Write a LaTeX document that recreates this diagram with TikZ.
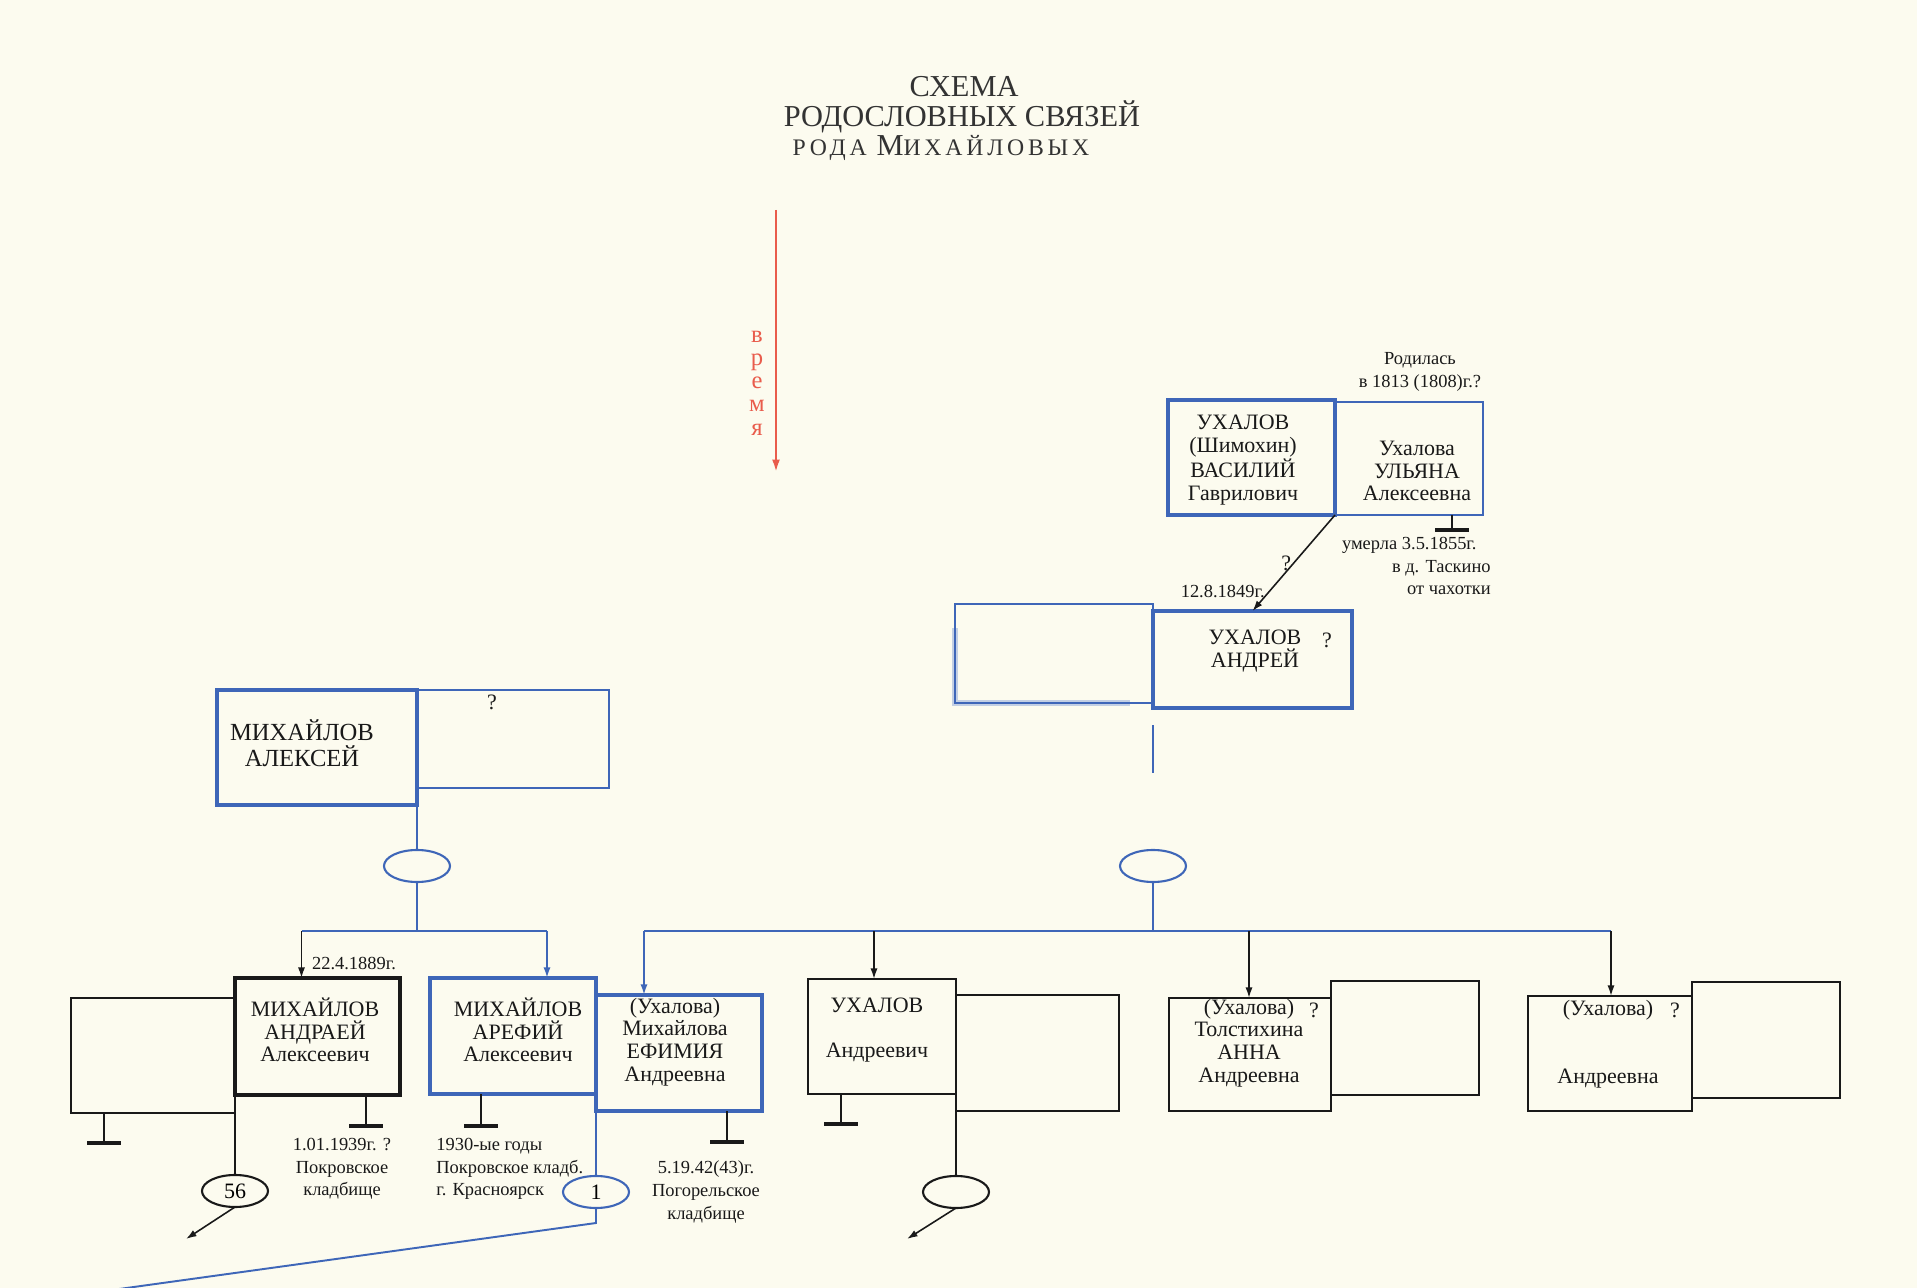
\documentclass[tikz,border=0pt]{standalone}
\usepackage{fontspec}
\setmainfont{Liberation Serif}
\newfontfamily\spacedfont[LetterSpace=16]{Liberation Serif}
\usetikzlibrary{positioning,arrows.meta,calc,shapes.geometric}

\definecolor{kinblue}{RGB}{62,102,184}
\definecolor{timered}{RGB}{233,92,76}
\definecolor{paper}{RGB}{252,251,239}

\tikzset{
  pbox/.style n args={2}{rectangle, draw, inner sep=0pt, outer sep=0pt,
    minimum width=#1*0.2mm, minimum height=#2*0.2mm},
}

\begin{document}
\begin{tikzpicture}[
  x=0.2mm, y=-0.2mm,
  thickblue/.style={draw=kinblue, line width=2.8pt},
  thinblue/.style={draw=kinblue, line width=1.1pt},
  thickblack/.style={draw=black!90, line width=2.8pt},
  thinblack/.style={draw=black!90, line width=1pt},
  names/.style={font=\fontsize{12.5}{12.9}\selectfont, align=center,
    inner sep=0pt, text=black!90},
  note/.style={font=\fontsize{10.5}{12.9}\selectfont, inner sep=0pt, text=black!90},
  titletext/.style={font=\fontsize{17.3}{20}\selectfont, inner sep=0pt, text=black!80},
  timetext/.style={font=\fontsize{14}{13.2}\selectfont, text=timered, align=center, inner sep=0pt},
  oval/.style={ellipse, draw=black!90, line width=1.2pt, inner sep=0pt, outer sep=0pt,
    minimum width=13.2mm, minimum height=6.4mm,
    font=\fontsize{12.5}{13}\selectfont},
  kinline/.style={draw=black!90, line width=0.9pt},
  bluelink/.style={draw=kinblue, line width=1.1pt},
  kinarrow/.style={kinline, -{Latex[length=6pt,width=4pt]}},
  bluearrow/.style={bluelink, -{Latex[length=6pt,width=4pt]}},
  gravebar/.style={draw=black!90, line width=2.3pt},
  timearrow/.style={draw=timered, line width=1.3pt, -{Latex[length=7pt,width=4.5pt]}},
  smudge/.style={draw=kinblue!50, line width=3pt, opacity=.6},
]
  \fill[paper] (0,0) rectangle (1917,1288);
  \useasboundingbox (0,0) rectangle (1917,1288);

  % Title
  \node[titletext] (title1) at (964,87) {СХЕМА};
  \node[titletext] (title2) at (962,117) {РОДОСЛОВНЫХ СВЯЗЕЙ};
  \node[inner sep=0pt, text=black!80] (title3) at (941,148)
    {\spacedfont\fontsize{13.5}{16}\selectfont РОДА {\fontsize{17.3}{16}\selectfont М}ИХАЙЛОВЫХ};

  % Time arrow
  \coordinate (ttop) at (776,210);
  \coordinate (tbot) at (776,472);
  \draw[timearrow] (ttop) -- (tbot);
  \node[timetext] (vremya) at (757,383) {в\\р\\е\\м\\я};

  % Spouse boxes
  \draw[smudge] (955,628) |- (1130,703);
  \node[pbox={148}{113}, thinblue] (ulyana) at (1409,458.5) {};
  \node[pbox={198}{99}, thinblue] (andreywife) at (1054,653.5) {};
  \node[pbox={192}{98}, thinblue] (alekseywife) at (513,739) {};
  \node[pbox={164}{115}, thinblack] (andraeywife) at (153,1055.5) {};
  \node[pbox={163}{116}, thinblack] (ukhalovwife) at (1037.5,1053) {};
  \node[pbox={148}{114}, thinblack] (annahusb) at (1405,1038) {};
  \node[pbox={148}{116}, thinblack] (lasthusb) at (1766,1040) {};

  % Persons
  \node[pbox={167}{115}, thickblue] (vasily) at (1251.5,457.5) {};
  \node[pbox={199}{97}, thickblue] (andrey) at (1252.5,659.5) {};
  \node[pbox={200}{115}, thickblue] (aleksey) at (317,747.5) {};
  \node[pbox={165}{117}, thickblack] (andraey) at (317.5,1036.5) {};
  \node[pbox={166}{116}, thickblue] (arefiy) at (513,1036) {};
  \node[pbox={166}{116}, thickblue] (efimiya) at (679,1053) {};
  \node[pbox={148}{115}, thinblack] (ukhalov) at (882,1036.5) {};
  \node[pbox={162}{113}, thinblack] (anna) at (1250,1054.5) {};
  \node[pbox={164}{115}, thinblack] (andreevna) at (1610,1053.5) {};

  % Names
  \node[names] (vasily-t) at (1243,460) {УХАЛОВ\\(Шимохин)\\ВАСИЛИЙ\\Гаврилович};
  \node[names] (ulyana-t) at (1417,471) {Ухалова\\УЛЬЯНА\\Алексеевна};
  \node[names] (andrey-t) at (1255,651) {УХАЛОВ\\АНДРЕЙ};
  \node[names] (andrey-q) at (1327,640) {?};
  \node[names, font=\fontsize{14}{14.8}\selectfont] (aleksey-t) at (302,743) {МИХАЙЛОВ\\АЛЕКСЕЙ};
  \node[names] (aleksey-q) at (492,702) {?};
  \node[names] (andraey-t) at (315,1030) {МИХАЙЛОВ\\АНДРАЕЙ\\Алексеевич};
  \node[names] (arefiy-t) at (518,1030) {МИХАЙЛОВ\\АРЕФИЙ\\Алексеевич};
  \node[names] (efimiya-t) at (675,1042) {(Ухалова)\\Михайлова\\ЕФИМИЯ\\Андреевна};
  \node[names] (ukhalov-t) at (877,1030) {УХАЛОВ\\[13pt]Андреевич};
  \node[names] (anna-t) at (1249,1043) {(Ухалова)\\Толстихина\\АННА\\Андреевна};
  \node[names] (anna-q) at (1314,1010) {?};
  \node[names] (andreevna-t) at (1608,1044) {(Ухалова)\\[26pt]Андреевна};
  \node[names] (andreevna-q) at (1675,1010) {?};

  % Marriages
  \node[oval, draw=kinblue] (oalek) at (417,866) {};
  \node[oval, draw=kinblue] (oandrey) at (1153,866) {};
  \node[oval] (o56) at (235,1191) {56};
  \node[oval, draw=kinblue] (o1) at (596,1192) {1};
  \node[oval] (oukh) at (956,1192) {};

  % Ukhalov line
  \draw[kinarrow] (vasily.south east) --
    node[midway, left=1pt, names] (arrq) {?}
    node[pos=0.8, left=2pt, note] (d1849) {12.8.1849г.} (andrey.north);
  \node[note, align=center] (ulyana-b) at (1420,372) {Родилась\\в 1813 (1808)г.?};
  \node[note, align=right, anchor=east] (ulyana-d) at (1491,566)
    {умерла 3.5.1855г.\hspace*{8pt}\\в д. Таскино\\от чахотки};

  % Children of Aleksey
  \coordinate (jalek) at (417,931);
  \draw[bluelink] (aleksey.south east) -- (oalek.north);
  \draw[bluelink] (oalek.south) -- (jalek);
  \coordinate (t1) at ($(andraey.north)+(-16,0)$);
  \coordinate (t2) at ($(arefiy.north)+(34,0)$);
  \draw[bluelink] (t1 |- jalek) -- (t2 |- jalek);
  \draw[kinarrow] (t1 |- jalek) -- (t1);
  \draw[bluearrow] (t2 |- jalek) -- (t2);
  \node[note] (d1889) at (354,963) {22.4.1889г.};

  % Children of Andrey
  \coordinate (jand) at (1153,931);
  \draw[bluelink] ($(andrey.south west)+(0,17)$) -- ($(andrey.south west)+(0,65)$);
  \draw[bluelink] (oandrey.south) -- (jand);
  \coordinate (t3) at ($(efimiya.north)+(-35,0)$);
  \coordinate (t4) at ($(ukhalov.north)+(-8,0)$);
  \coordinate (t5) at ($(anna.north)+(-1,0)$);
  \coordinate (t6) at ($(andreevna.north)+(1,0)$);
  \draw[bluelink] (t3 |- jand) -- (t6 |- jand);
  \draw[bluearrow] (t3 |- jand) -- (t3);
  \foreach \tgt in {t4,t5,t6}
    \draw[kinarrow] (\tgt |- jand) -- (\tgt);

  % Graves
  \foreach \bx/\dx/\len in {ulyana/117/15, andraeywife/33/30, andraey/131/31,
      arefiy/51/32, efimiya/131/31, ukhalov/33/30} {
    \draw[kinline] ($(\bx.south west)+(\dx,0)$) -- ++(0,\len) coordinate (g);
    \draw[gravebar] ($(g)+(-17,0)$) -- ($(g)+(17,0)$);
  }
  \node[note, align=center] (andraey-d) at (342,1169) {1.01.1939г. ?\\Покровское\\кладбище};
  \node[note, align=left, anchor=west] (arefiy-d) at (436,1169) {1930-ые годы\\Покровское кладб.\\г. Красноярск};
  \node[note, align=center] (efimiya-d) at (706,1192) {5.19.42(43)г.\\Погорельское\\кладбище};

  % Lower branches
  \draw[kinline] (andraeywife.south east) -- (o56.north);
  \coordinate (o56end) at (186,1239);
  \draw[kinarrow] (o56.south) -- (o56end);
  \draw[bluelink] (efimiya.south west) -- (o1.north);
  \coordinate (o1turn) at (596,1223);
  \coordinate (o1end) at (112,1290);
  \draw[bluelink] (o1.south) -- (o1turn) -- (o1end);
  \draw[kinline] (ukhalovwife.south west) -- (oukh.north);
  \coordinate (oukhend) at (907,1239);
  \draw[kinarrow] (oukh.south) -- (oukhend);
\end{tikzpicture}
\end{document}
